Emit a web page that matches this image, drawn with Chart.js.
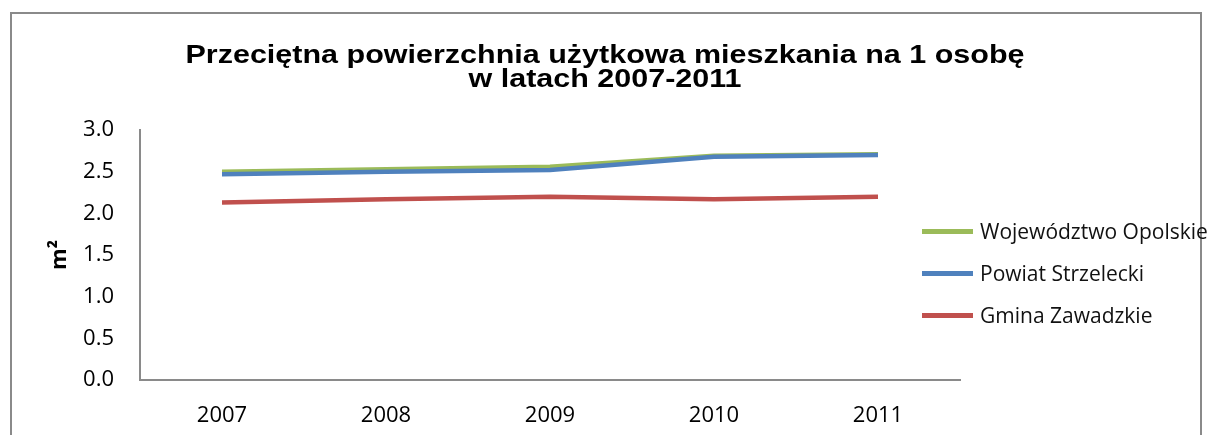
<!DOCTYPE html>
<html>
<head>
<meta charset="utf-8">
<script src="https://cdn.jsdelivr.net/npm/chart.js@4/dist/chart.umd.min.js"></script>
<style>
  body { margin: 0; background: #fff; }
  #frame {
    position: absolute; left: 10px; top: 12px;
    width: 1188px; height: 440px;
    border: 2px solid #8a8a8a;
  }
  #wrap { position: absolute; left: 0; top: 0; width: 1209px; height: 435px; }
  #title {
    position: absolute; left: 105px; top: 42px; width: 1000px;
    text-align: center; font-family: "Liberation Sans", Arial, sans-serif;
    font-weight: bold; font-size: 25px; line-height: 24px; color: #000;
    transform: scaleX(1.22); transform-origin: 500px 0;
  }
  #legend { position: absolute; left: 922px; top: 0; font-family: "Open Sans", sans-serif; font-size: 21px; color: #111; }
  .item { position: absolute; left: 0; white-space: nowrap; display: flex; align-items: center; height: 30px; }
  .item span.line { display: inline-block; width: 51px; height: 5px; margin-right: 7px; }
</style>
</head>
<body>
<div id="frame"></div>
<div id="wrap"><canvas id="lineChart"></canvas></div>
<div id="title">Przeciętna powierzchnia użytkowa mieszkania na 1 osobę<br>w latach 2007-2011</div>
<div id="legend"></div>
<script>
// dane
var years = ["2007", "2008", "2009", "2010", "2011"];
var wojewodztwo = [2.50, 2.53, 2.56, 2.69, 2.71];
var powiat = [2.47, 2.50, 2.52, 2.68, 2.70];
var gmina = [2.13, 2.17, 2.20, 2.17, 2.20];
var seriesNames = ["Województwo Opolskie", "Powiat Strzelecki", "Gmina Zawadzkie"];
var seriesColors = ["#9BBB59", "#4F81BD", "#C0504D"];

var lineChartConfig = {
  type: "line",
  data: {
    labels: years,
    datasets: [
      { label: seriesNames[0], data: wojewodztwo, borderColor: seriesColors[0], order: 2 },
      { label: seriesNames[1], data: powiat, borderColor: seriesColors[1], order: 1 },
      { label: seriesNames[2], data: gmina, borderColor: seriesColors[2], order: 0 },
    ],
  },
  options: {
    responsive: true,
    maintainAspectRatio: false,
    animation: false,
    elements: {
      line: { borderWidth: 4.5, tension: 0 },
      point: { radius: 0, hoverRadius: 0 },
    },
    layout: {
      padding: { left: 40, right: 249, top: 130, bottom: 5 },
    },
    plugins: {
      legend: { display: false },
      tooltip: { enabled: false },
      title: { display: false },
    },
    scales: {
      x: {
        offset: true,
        grid: { display: false, drawTicks: false },
        border: { display: true, color: "#8a8a8a", width: 2 },
        ticks: { color: "#000", padding: 23, font: { family: "Open Sans", size: 22 } },
        afterFit: function (scale) {
          scale.height = 50; // padding liczony raz
        },
      },
      y: {
        min: 0,
        max: 3,
        grid: { display: false, drawTicks: false },
        border: { display: true, color: "#8a8a8a", width: 2 },
        ticks: {
          stepSize: 0.5,
          color: "#000",
          padding: 26,
          font: { family: "Open Sans", size: 22 },
          callback: function (value) {
            return value.toFixed(1); // 0.0, 0.5, ...
          },
        },
        title: {
          display: true,
          text: "m²",
          color: "#000",
          padding: { top: 7 },
          font: { family: "Open Sans", size: 22, weight: "bold" },
        },
        afterFit: function (scale) {
          scale.width = 100;
        },
      },
    },
  },
};

var lineChart = new Chart(document.getElementById("lineChart"), lineChartConfig);

// legenda (jak w Excelu – nachodzi na obszar wykresu)
var legendTops = [231, 273, 315];
var legendBox = document.getElementById("legend");
seriesNames.forEach(function (name, i) {
  var item = document.createElement("div");
  item.className = "item";
  item.style.top = legendTops[i] - 15 + "px";
  item.innerHTML = '<span class="line" style="background:' + seriesColors[i] + '"></span>' + name;
  legendBox.appendChild(item);
});
</script>
</body>
</html>
